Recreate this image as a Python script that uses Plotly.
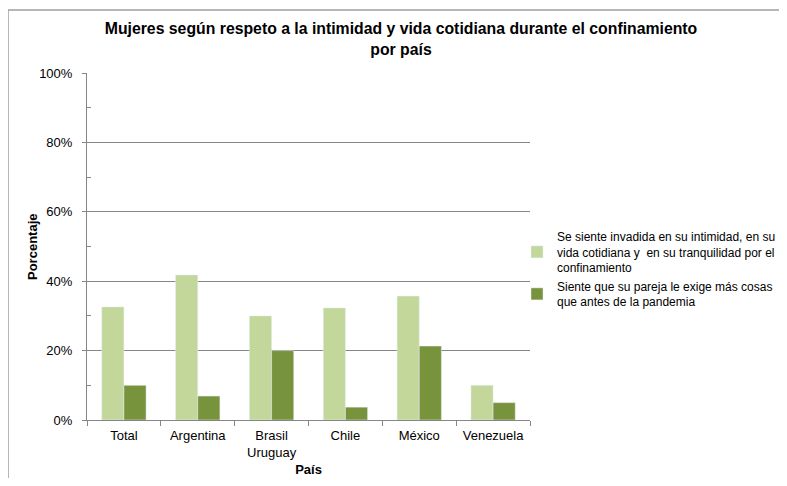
import plotly.graph_objects as go

paises = ["Total", "Argentina", "Brasil<br>Uruguay", "Chile", "México", "Venezuela"]
invadida = [32.6, 41.8, 30.0, 32.3, 35.7, 10.0]
exige = [10.0, 6.9, 20.0, 3.7, 21.3, 5.0]

serie_1 = "Se siente invadida en su intimidad, en su<br>vida cotidiana y  en su tranquilidad por el<br>confinamiento"
serie_2 = "Siente que su pareja le exige más cosas<br>que antes de la pandemia"

# the page body adds an 8px margin, so the figure is drawn 8px in
O = 8
W, H = 787 - 2 * O, 486 - 2 * O
L, T = 87 - O, 73 - O
R = W - (530 - O)
B = H - (420 - O)
pw, ph = W - L - R, H - T - B
y0px = H - B  # pixel row of the 0% line inside the figure


def px_x(page_x):
    return (page_x - O - L) / pw


def px_y(page_y):
    return (y0px - (page_y - O)) / ph


fig = go.Figure([
    go.Bar(x=paises, y=invadida, name=serie_1, marker_color="#c4d79b"),
    go.Bar(x=paises, y=exige, name=serie_2, marker_color="#77933c"),
])

fig.update_layout(
    width=W, height=H,
    margin=dict(l=L, r=R, t=T, b=B, autoexpand=False),
    paper_bgcolor="white", plot_bgcolor="white",
    font=dict(family="Liberation Sans, Arial, sans-serif", size=13, color="#000"),
    title=dict(
        text="<b>Mujeres según respeto a la intimidad y vida cotidiana durante el confinamiento<br>por país</b>",
        x=(401 - O) / W, xanchor="center", y=1 - 26 / H, yanchor="top",
        font=dict(size=15.8),
    ),
    barmode="group", bargap=0.4, bargroupgap=0,
    legend=dict(x=px_x(517), y=px_y(222), xanchor="left", yanchor="top",
                font=dict(size=12), tracegroupgap=5, itemwidth=30,
                bgcolor="rgba(0,0,0,0)"),
    showlegend=True,
    xaxis=dict(
        title=dict(text="<b>País</b>", font=dict(size=13), standoff=6),
        showline=True, linecolor="#868686", linewidth=1,
        ticks="outside", tickson="boundaries", ticklen=5, tickcolor="#868686",
        tickfont=dict(size=13), ticklabelstandoff=3,
    ),
    yaxis=dict(
        range=[0, 100], tickvals=[0, 20, 40, 60, 80, 100],
        ticktext=["0%", "20%", "40%", "60%", "80%", "100%"],
        showgrid=True, gridcolor="#868686", gridwidth=1,
        showline=True, linecolor="#868686", linewidth=1,
        ticks="outside", ticklen=4, tickcolor="#868686", ticklabelstandoff=7,
        minor=dict(tickvals=[10, 30, 50, 70, 90], ticks="inside", ticklen=4, tickcolor="#868686"),
        zeroline=False, tickfont=dict(size=13),
    ),
)

# y-axis title, placed where the original has it
fig.add_annotation(text="<b>Porcentaje</b>", xref="paper", yref="paper",
                   x=px_x(32), y=px_y(247), textangle=-90, showarrow=False,
                   xanchor="center", yanchor="middle", font=dict(size=13))

# outer chart frame (top edge and left edge of the original chart box)
fig.add_shape(type="rect", xref="paper", yref="paper",
              x0=px_x(8), x1=px_x(800),
              y0=px_y(500), y1=px_y(10),
              line=dict(color="#a0a0a0", width=1.5), fillcolor="rgba(0,0,0,0)")

fig.write_html("out.html")
